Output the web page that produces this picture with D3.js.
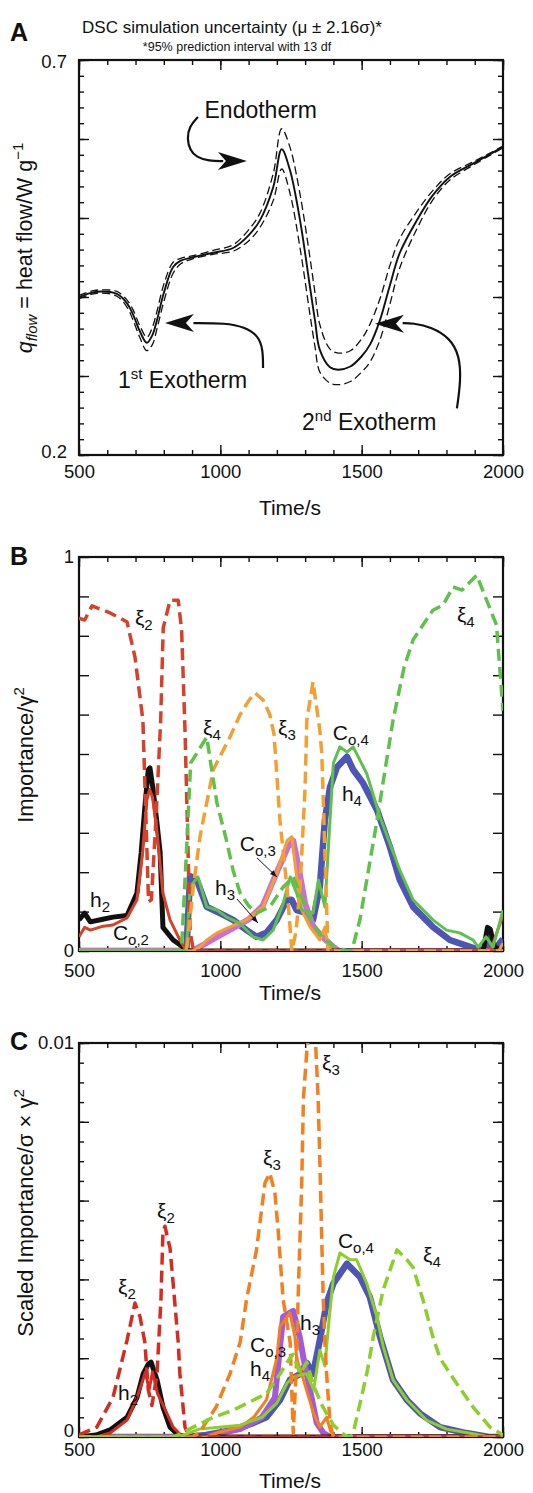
<!DOCTYPE html>
<html>
<head>
<meta charset="utf-8">
<script src="https://cdn.jsdelivr.net/npm/d3@7"></script>
<style>
  body { margin: 0; background: #fff; }
  svg text { font-family: "Liberation Sans", Arial, sans-serif; fill: #111; }
</style>
</head>
<body>
<div id="chart"></div>
<script>
// ---------- data ----------
// Panel A: DSC heat flow, mean and 95% prediction band
const aTime  = [500,540,575,634,670,691,716,740,760,776,800,833,860,900,975,1045,1100,1140,1187,1217,1246,1282,1317,1335,1352,1388,1417,1460,1500,1530,1565,1600,1635,1695,1750,1812,1900,2000];
const aMean  = [0.400,0.405,0.407,0.404,0.392,0.378,0.356,0.342,0.352,0.371,0.405,0.438,0.446,0.450,0.456,0.462,0.478,0.497,0.539,0.587,0.561,0.497,0.413,0.370,0.333,0.311,0.308,0.312,0.325,0.340,0.371,0.415,0.456,0.497,0.528,0.552,0.570,0.590];
const aUpper = [0.402,0.407,0.409,0.407,0.396,0.384,0.363,0.349,0.362,0.382,0.416,0.444,0.449,0.452,0.459,0.466,0.485,0.506,0.556,0.613,0.590,0.530,0.450,0.405,0.365,0.334,0.329,0.332,0.347,0.366,0.398,0.440,0.474,0.508,0.534,0.556,0.572,0.591];
const aLower = [0.398,0.403,0.405,0.401,0.387,0.371,0.348,0.332,0.340,0.360,0.394,0.430,0.442,0.448,0.454,0.458,0.471,0.488,0.522,0.562,0.532,0.462,0.378,0.337,0.305,0.291,0.289,0.293,0.305,0.318,0.346,0.391,0.437,0.486,0.522,0.548,0.568,0.589];

// Panel B: importance (time, value)
const bXi2  = [[500,0.845],[520,0.84],[546,0.876],[610,0.858],[645,0.845],[670,0.835],[698,0.746],[726,0.586],[746,0.125],[756,0.13],[772,0.33],[789,0.586],[798,0.82],[822,0.89],[851,0.89],[863,0.815],[875,0.56],[893,0.05],[905,0],[2000,0]];
const bH2   = [[500,0.079],[520,0.096],[540,0.074],[580,0.08],[620,0.086],[670,0.09],[705,0.147],[720,0.25],[733,0.365],[745,0.46],[751,0.465],[762,0.41],[775,0.33],[787,0.25],[797,0.06],[833,0.028],[868,0.01],[890,0],[1930,0],[1945,0.06],[1955,0.055],[1970,0.01],[2000,0]];
const bCo2  = [[500,0.036],[520,0.06],[540,0.053],[580,0.062],[620,0.066],[670,0.084],[705,0.13],[725,0.25],[740,0.383],[750,0.41],[760,0.39],[775,0.31],[797,0.147],[822,0.079],[857,0.028],[880,0],[1940,0],[1960,0.01],[1980,0.05],[2000,0.09]];
const bXi4  = [[500,0],[850,0],[863,0.01],[880,0.25],[895,0.477],[952,0.543],[968,0.467],[988,0.376],[1022,0.28],[1045,0.205],[1070,0.147],[1100,0.115],[1128,0.096],[1175,0.112],[1222,0.162],[1258,0.188],[1282,0.147],[1320,0.08],[1360,0.035],[1400,0.012],[1448,0],[1465,0],[1494,0.08],[1554,0.33],[1611,0.586],[1650,0.72],[1682,0.79],[1752,0.865],[1788,0.878],[1823,0.924],[1855,0.916],[1907,0.954],[1977,0.827],[2000,0.61]];
const bXi3  = [[500,0],[875,0],[882,0.01],[904,0.16],[928,0.29],[975,0.46],[1034,0.543],[1070,0.6],[1100,0.635],[1123,0.655],[1151,0.637],[1175,0.6],[1190,0.55],[1211,0.33],[1236,0.16],[1253,0],[1268,0.05],[1282,0.16],[1300,0.416],[1306,0.586],[1328,0.683],[1352,0.56],[1359,0.5],[1370,0.25],[1381,0],[2000,0]];
const bCo3  = [[500,0],[900,0],[928,0.01],[952,0.028],[988,0.046],[1034,0.061],[1093,0.079],[1151,0.112],[1200,0.198],[1236,0.28],[1253,0.29],[1270,0.188],[1288,0.104],[1317,0.061],[1352,0.028],[1370,0.061],[1381,0.01],[1395,0],[1985,0],[2000,0.02]];
const bH3   = [[500,0],[900,0],[950,0.02],[1000,0.04],[1050,0.06],[1100,0.08],[1150,0.115],[1200,0.2],[1240,0.265],[1258,0.28],[1280,0.2],[1300,0.12],[1330,0.06],[1370,0.03],[1400,0.01],[1420,0],[2000,0]];
const bH4   = [[500,0],[880,0],[893,0.19],[917,0.18],[952,0.112],[998,0.096],[1045,0.079],[1093,0.053],[1128,0.036],[1163,0.046],[1200,0.079],[1236,0.13],[1252,0.13],[1270,0.104],[1306,0.096],[1328,0.079],[1352,0.163],[1370,0.333],[1388,0.416],[1413,0.467],[1448,0.493],[1470,0.46],[1505,0.426],[1554,0.358],[1600,0.264],[1635,0.18],[1682,0.112],[1752,0.061],[1812,0.028],[1894,0.008],[1940,0],[1950,0.04],[1965,0],[2000,0.03]];
const bCo4  = [[500,0],[880,0],[893,0.163],[921,0.188],[952,0.112],[988,0.104],[1022,0.086],[1070,0.07],[1116,0.036],[1151,0.028],[1187,0.053],[1222,0.12],[1247,0.188],[1270,0.147],[1288,0.104],[1328,0.096],[1347,0.18],[1370,0.112],[1388,0.333],[1400,0.477],[1423,0.518],[1448,0.505],[1470,0.518],[1518,0.45],[1565,0.34],[1635,0.205],[1682,0.13],[1752,0.079],[1800,0.053],[1847,0.046],[1894,0.028],[1912,0.01],[1940,0.036],[1965,0.01],[2000,0.104]];

// Panel C: scaled importance (time, value)
const cXi2  = [[500,0.00005],[563,0.00025],[620,0.001],[670,0.00246],[698,0.0034],[716,0.00305],[733,0.0024],[745,0.0012],[758,0.0008],[776,0.0016],[790,0.0035],[797,0.0052],[804,0.00535],[815,0.005],[822,0.0048],[833,0.0039],[851,0.0024],[857,0.0016],[875,0.00025],[890,0],[2000,0]];
const cH2   = [[500,0],[560,0.00005],[610,0.00018],[670,0.0005],[705,0.001],[727,0.0016],[745,0.00185],[755,0.0019],[776,0.00145],[797,0.00076],[822,0.00025],[851,0.00005],[880,0],[2000,0]];
const cCo2  = [[500,0],[570,0.00002],[610,0.0001],[670,0.00043],[705,0.001],[735,0.00165],[748,0.0012],[760,0.00165],[778,0.0011],[811,0.0006],[833,0.00025],[860,0.00005],[880,0],[2000,0]];
const cXi3  = [[500,0],[900,0],[925,0.0001],[985,0.00076],[1034,0.0016],[1070,0.0024],[1093,0.0035],[1128,0.00475],[1158,0.00645],[1175,0.0067],[1193,0.0062],[1205,0.0052],[1222,0.0035],[1247,0.0024],[1258,0.0001],[1270,0.00195],[1275,0.0035],[1288,0.00645],[1294,0.0086],[1306,0.0098],[1320,0.0106],[1335,0.0103],[1346,0.0086],[1352,0.007],[1364,0.0035],[1370,0.0024],[1376,0.0016],[1388,0.00036],[1400,0],[2000,0]];
const cCo3  = [[500,0],[950,0],[995,0.00012],[1070,0.00025],[1118,0.0005],[1163,0.00094],[1200,0.002],[1211,0.0028],[1246,0.00315],[1264,0.00254],[1270,0.002],[1294,0.00145],[1330,0.0006],[1352,0.00025],[1376,0.0005],[1390,0.00015],[1405,0],[2000,0]];
const cH3   = [[500,0],[950,0],[1000,0.0001],[1070,0.0002],[1147,0.0005],[1193,0.001],[1210,0.0022],[1222,0.00305],[1258,0.0032],[1282,0.0025],[1294,0.002],[1317,0.0012],[1341,0.00036],[1365,0.0001],[1390,0],[2000,0]];
const cH4   = [[500,0],[880,0],[950,0.00005],[1045,0.00018],[1118,0.00036],[1163,0.0005],[1211,0.00094],[1246,0.00145],[1282,0.0016],[1306,0.00188],[1328,0.0016],[1352,0.00246],[1376,0.0034],[1400,0.0039],[1448,0.0044],[1494,0.00406],[1529,0.00355],[1565,0.00254],[1611,0.00145],[1660,0.00094],[1706,0.0006],[1777,0.00025],[1870,0.0001],[1950,0],[2000,0]];
const cCo4  = [[500,0],[850,0],[870,0.00005],[925,0.0002],[995,0.00025],[1070,0.0003],[1147,0.0005],[1200,0.00086],[1236,0.00137],[1258,0.00152],[1294,0.0016],[1306,0.0016],[1330,0.0012],[1352,0.0022],[1370,0.0018],[1385,0.003],[1400,0.00406],[1423,0.00467],[1459,0.0045],[1482,0.0045],[1518,0.0039],[1554,0.00305],[1576,0.0023],[1611,0.00145],[1660,0.00094],[1729,0.00043],[1800,0.0002],[1894,0.00008],[1950,0],[2000,0]];
const cXi4  = [[500,0],[830,0],[851,0.00005],[904,0.00025],[975,0.0005],[1045,0.00068],[1118,0.00094],[1163,0.0011],[1211,0.0016],[1246,0.002],[1258,0.0021],[1282,0.0016],[1306,0.0019],[1330,0.0013],[1360,0.0008],[1400,0.0003],[1440,0.00005],[1460,0],[1470,0.0001],[1518,0.0016],[1541,0.00254],[1576,0.00373],[1625,0.00475],[1660,0.0045],[1682,0.0043],[1717,0.00348],[1752,0.00254],[1777,0.002],[1835,0.00137],[1894,0.00076],[1954,0.00025],[2000,0.00005]];

// tick values
const xMajor = [500, 1000, 1500, 2000];
const xMinor = d3.range(500, 2001, 100);

// ---------- layout ----------
const width = 533, height = 1493;
const L = 79, R = 503;

const svg = d3.select('#chart').append('svg')
    .attr('width', width)
    .attr('height', height);

const x = d3.scaleLinear().domain([500, 2000]).range([L, R]);

// Draw frame, ticks and tick labels for one panel
function drawFrame(p) {
    const y = d3.scaleLinear().domain(p.yDomain).range([p.bottom, p.top]);
    const g = svg.append('g');

    const tickAxis = (axisFn, scale, vals, len, tr) => {
        const a = g.append('g')
            .attr('transform', tr)
            .call(axisFn(scale).tickValues(vals).tickSize(-len).tickFormat(''));
        a.select('.domain').remove();
        a.selectAll('line').attr('stroke', '#111').attr('stroke-width', 1.4);
    };
    // x ticks on top and bottom
    tickAxis(d3.axisBottom, x, xMinor, 5, `translate(0,${p.bottom})`);
    tickAxis(d3.axisBottom, x, xMajor, 10, `translate(0,${p.bottom})`);
    tickAxis(d3.axisTop, x, xMinor, 5, `translate(0,${p.top})`);
    tickAxis(d3.axisTop, x, xMajor, 10, `translate(0,${p.top})`);
    // y ticks on left and right
    tickAxis(d3.axisLeft, y, p.yMinor, p.minorLen, `translate(${L},0)`);
    tickAxis(d3.axisLeft, y, p.yMajor, 10, `translate(${L},0)`);
    tickAxis(d3.axisRight, y, p.yMinor, p.minorLen, `translate(${R},0)`);
    tickAxis(d3.axisRight, y, p.yMajor, 10, `translate(${R},0)`);

    g.append('rect')
        .attr('x', L).attr('y', p.top)
        .attr('width', R - L).attr('height', p.bottom - p.top)
        .attr('fill', 'none').attr('stroke', '#111').attr('stroke-width', 2.2);

    // x tick labels
    const xl = g.append('g')
        .attr('transform', `translate(0,${p.bottom})`)
        .call(d3.axisBottom(x).tickValues(xMajor).tickSize(0).tickPadding(p.xPad).tickFormat(d3.format('d')));
    xl.select('.domain').remove();
    xl.attr('font-family', null).attr('font-size', null);
    xl.selectAll('text').style('font-size', '18.5px').attr('fill', '#111');

    // y tick labels
    g.selectAll('.ylab')
        .data(p.yLabels)
        .join('text')
        .attr('x', p.yLabX)
        .attr('y', d => y(d[0]) + d[1])
        .attr('dy', '0.35em')
        .attr('text-anchor', 'end')
        .style('font-size', '18.5px')
        .text(d => d[2]);

    // panel letter
    svg.append('text')
        .attr('x', 10).attr('y', p.letterY)
        .style('font-size', '25px').style('font-weight', 'bold')
        .text(p.letter);

    // x title
    svg.append('text')
        .attr('x', 290).attr('y', p.xTitleY)
        .attr('text-anchor', 'middle')
        .style('font-size', '21px')
        .text('Time/s');

    // clip for data
    svg.append('clipPath').attr('id', 'clip' + p.letter)
        .append('rect')
        .attr('x', L).attr('y', p.top)
        .attr('width', R - L).attr('height', p.bottom - p.top);

    return y;
}

// rich text with sub/superscripts
function rich(sel, parts, subSize) {
    let shift = 0;
    parts.forEach(pt => {
        const s = pt.sub ? 5 : pt.sup ? -9 : 0;
        const ts = sel.append('tspan').text(pt.t);
        if (s !== shift) ts.attr('dy', s - shift);
        if (pt.sub || pt.sup) ts.style('font-size', subSize + 'px');
        if (pt.it) ts.style('font-style', 'italic');
        shift = s;
    });
    return sel;
}

function series(g, yScale, pts, color, w, dash) {
    g.append('path')
        .datum(pts)
        .attr('fill', 'none')
        .attr('stroke', color)
        .attr('stroke-width', w)
        .attr('stroke-linejoin', 'round')
        .attr('stroke-dasharray', dash || null)
        .attr('d', d3.line().x(d => x(d[0])).y(d => yScale(d[1])));
}

function label(g, yScale, t, v, parts) {
    const txt = g.append('text')
        .attr('x', x(t)).attr('y', yScale(v))
        .style('font-size', '21px');
    rich(txt, parts, 15);
}

// ---------- title ----------
svg.append('text')
    .attr('x', 232).attr('y', 33)
    .attr('text-anchor', 'middle')
    .style('font-size', '17px')
    .text('DSC simulation uncertainty (\u03bc \u00b1 2.16\u03c3)*');
svg.append('text')
    .attr('x', 237).attr('y', 51)
    .attr('text-anchor', 'middle')
    .style('font-size', '12.5px')
    .text('*95% prediction interval with 13 df');

// ---------- Panel A ----------
const yA = drawFrame({
    letter: 'A', letterY: 41, top: 60, bottom: 455, yDomain: [0.2, 0.7],
    yMajor: d3.range(0.2, 0.7001, 0.1), yMinor: d3.range(0.2, 0.7001, 0.02), minorLen: 5,
    yLabels: [[0.2, -3, '0.2'], [0.7, 2, '0.7']], yLabX: 67, xPad: 10, xTitleY: 515
});
const gA = svg.append('g').attr('clip-path', 'url(#clipA)');
const lineA = d3.line().x(d => x(d[0])).y(d => yA(d[1])).curve(d3.curveCatmullRom);
[[aUpper, '8,4'], [aLower, '8,4'], [aMean, null]].forEach(([vals, dash]) => {
    gA.append('path')
        .datum(aTime.map((t, i) => [t, vals[i]]))
        .attr('fill', 'none')
        .attr('stroke', '#111')
        .attr('stroke-width', dash ? 1.3 : 1.9)
        .attr('stroke-dasharray', dash)
        .attr('d', lineA);
});

// annotation arrows (data units)
const arrowEndo = [[921,0.628],[890,0.616],[882,0.600],[893,0.586],[915,0.577],[960,0.572],[1010,0.572]];
const arrowExo1 = [[1151,0.310],[1151,0.333],[1135,0.351],[1085,0.362],[1020,0.367],[905,0.367]];
const arrowExo2 = [[1837,0.259],[1851,0.295],[1846,0.326],[1812,0.348],[1748,0.362],[1680,0.367],[1645,0.367]];
const arrowTips = [[1094,0.572,0], [804,0.367,180], [1547,0.366,180]];

const shaft = d3.line().x(d => x(d[0])).y(d => yA(d[1])).curve(d3.curveBasis);
[arrowEndo, arrowExo1, arrowExo2].forEach(pts => {
    svg.append('path').datum(pts)
        .attr('fill', 'none').attr('stroke', '#111').attr('stroke-width', 2.2)
        .attr('d', shaft);
});
arrowTips.forEach(([t, v, ang]) => {
    svg.append('path')
        .attr('transform', `translate(${x(t)},${yA(v)}) rotate(${ang})`)
        .attr('d', 'M0,0 L-29,-9 L-21,0 L-29,9 Z')
        .attr('fill', '#111');
});

const annA = svg.append('g').style('font-size', '23px');
annA.append('text').attr('x', x(944)).attr('y', yA(0.627)).text('Endotherm');
rich(annA.append('text').attr('x', x(638)).attr('y', yA(0.285)),
    [{t: '1'}, {t: 'st', sup: true}, {t: ' Exotherm'}], 15);
rich(annA.append('text').attr('x', x(1289)).attr('y', yA(0.232)),
    [{t: '2'}, {t: 'nd', sup: true}, {t: ' Exotherm'}], 15);

// y title A
rich(svg.append('text')
    .attr('transform', 'translate(32,248) rotate(-90)')
    .attr('text-anchor', 'middle')
    .style('font-size', '21.5px'),
    [{t: 'q', it: true}, {t: 'flow', sub: true, it: true}, {t: ' = heat flow/W g'}, {t: '\u22121', sup: true}], 15);

// ---------- Panel B ----------
const yB = drawFrame({
    letter: 'B', letterY: 565, top: 557, bottom: 951, yDomain: [0, 1],
    yMajor: d3.range(0, 1.0001, 0.1), yMinor: [], minorLen: 5,
    yLabels: [[0, 0, '0'], [1, 0, '1']], yLabX: 74, xPad: 13, xTitleY: 1000
});
const gB = svg.append('g').attr('clip-path', 'url(#clipB)');
const colB = {red: '#d7402b', orange: '#f4a030', green: '#5fc14a', blue: '#4d55b5', purple: '#cc6fd2', black: '#111'};
const dash = '12,6';
series(gB, yB, bH4, colB.blue, 6.5);
series(gB, yB, bH3, colB.purple, 6);
series(gB, yB, bH2, colB.black, 5);
series(gB, yB, bCo2, colB.red, 3);
series(gB, yB, bCo3, colB.orange, 3);
series(gB, yB, bCo4, colB.green, 3);
series(gB, yB, bXi2, colB.red, 3.5, dash);
series(gB, yB, bXi3, colB.orange, 3.5, dash);
series(gB, yB, bXi4, colB.green, 3.5, dash);

const labB = svg.append('g');
label(labB, yB, 698, 0.827, [{t: '\u03be'}, {t: '2', sub: true}]);
label(labB, yB, 1837, 0.835, [{t: '\u03be'}, {t: '4', sub: true}]);
label(labB, yB, 939, 0.548, [{t: '\u03be'}, {t: '4', sub: true}]);
label(labB, yB, 1204, 0.548, [{t: '\u03be'}, {t: '3', sub: true}]);
label(labB, yB, 1398, 0.536, [{t: 'C'}, {t: 'o,4', sub: true}]);
label(labB, yB, 1430, 0.381, [{t: 'h'}, {t: '4', sub: true}]);
label(labB, yB, 1069, 0.254, [{t: 'C'}, {t: 'o,3', sub: true}]);
label(labB, yB, 981, 0.142, [{t: 'h'}, {t: '3', sub: true}]);
label(labB, yB, 539, 0.112, [{t: 'h'}, {t: '2', sub: true}]);
label(labB, yB, 620, 0.028, [{t: 'C'}, {t: 'o,2', sub: true}]);

// small pointer arrows
[[[1130, 0.236], [1200, 0.188]], [[1059, 0.132], [1133, 0.071]]].forEach(([a, b]) => {
    const x1 = x(a[0]), y1 = yB(a[1]), x2 = x(b[0]), y2 = yB(b[1]);
    const ang = Math.atan2(y2 - y1, x2 - x1) * 180 / Math.PI;
    labB.append('line').attr('x1', x1).attr('y1', y1).attr('x2', x2).attr('y2', y2)
        .attr('stroke', '#111').attr('stroke-width', 1);
    labB.append('path')
        .attr('transform', `translate(${x2},${y2}) rotate(${ang})`)
        .attr('d', 'M0,0 L-7,-2.5 L-7,2.5 Z').attr('fill', '#111');
});

rich(svg.append('text')
    .attr('transform', 'translate(33,755) rotate(-90)')
    .attr('text-anchor', 'middle')
    .style('font-size', '22px'),
    [{t: 'Importance/\u03b3'}, {t: '2', sup: true}], 15);

// ---------- Panel C ----------
const yC = drawFrame({
    letter: 'C', letterY: 1050, top: 1043, bottom: 1437, yDomain: [0, 0.01],
    yMajor: d3.range(0, 0.01001, 0.002), yMinor: d3.range(0, 0.01001, 0.0005), minorLen: 5,
    yLabels: [[0, -6, '0'], [0.01, 0, '0.01']], yLabX: 74, xPad: 6, xTitleY: 1488
});
const gC = svg.append('g').attr('clip-path', 'url(#clipC)');
const colC = {red: '#d62c1f', orange: '#f47f1f', green: '#8ccf2a', blue: '#4d55b5', purple: '#a35ad6', black: '#111'};
series(gC, yC, cH4, colC.blue, 6.5);
series(gC, yC, cH3, colC.purple, 6);
series(gC, yC, cH2, colC.black, 5);
series(gC, yC, cCo2, colC.red, 3);
series(gC, yC, cCo3, colC.orange, 3);
series(gC, yC, cCo4, colC.green, 3);
series(gC, yC, cXi2, colC.red, 3.5, dash);
series(gC, yC, cXi3, colC.orange, 3.5, dash);
series(gC, yC, cXi4, colC.green, 3.5, dash);

const labC = svg.append('g');
label(labC, yC, 1360, 0.00931, [{t: '\u03be'}, {t: '3', sub: true}]);
label(labC, yC, 1151, 0.0069, [{t: '\u03be'}, {t: '3', sub: true}]);
label(labC, yC, 776, 0.00556, [{t: '\u03be'}, {t: '2', sub: true}]);
label(labC, yC, 638, 0.00363, [{t: '\u03be'}, {t: '2', sub: true}]);
label(labC, yC, 1416, 0.0048, [{t: 'C'}, {t: 'o,4', sub: true}]);
label(labC, yC, 1717, 0.00444, [{t: '\u03be'}, {t: '4', sub: true}]);
label(labC, yC, 1282, 0.00272, [{t: 'h'}, {t: '3', sub: true}]);
label(labC, yC, 1105, 0.00216, [{t: 'C'}, {t: 'o,3', sub: true}]);
label(labC, yC, 1105, 0.00155, [{t: 'h'}, {t: '4', sub: true}]);
label(labC, yC, 638, 0.00094, [{t: 'h'}, {t: '2', sub: true}]);

rich(svg.append('text')
    .attr('transform', 'translate(33,1213) rotate(-90)')
    .attr('text-anchor', 'middle')
    .style('font-size', '22px'),
    [{t: 'Scaled Importance/\u03c3 \u00d7 \u03b3'}, {t: '2', sup: true}], 15);
</script>
</body>
</html>
